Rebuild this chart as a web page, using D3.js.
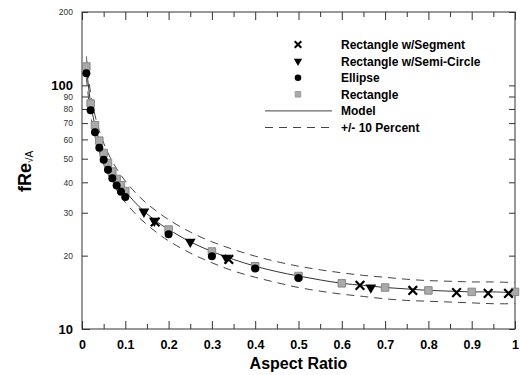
<!DOCTYPE html>
<html>
<head>
<meta charset="utf-8">
<script src="https://cdn.jsdelivr.net/npm/d3@7"></script>
<style>
  body { margin: 0; background: #fff; }
  svg { display: block; font-family: "Liberation Sans", Arial, sans-serif; }
</style>
</head>
<body>
<div id="chart"></div>
<script>
// ---- data ----
var xMajorTicks = [0, 0.1, 0.2, 0.3, 0.4, 0.5, 0.6, 0.7, 0.8, 0.9, 1];
var xMinorTicks = [0.05, 0.15, 0.25, 0.35, 0.45, 0.55, 0.65, 0.75, 0.85, 0.95];
var yMajorTicks = [10, 100];
var yMinorTicks = [20, 30, 40, 50, 60, 70, 80, 90, 200];

// Rectangle w/Segment (x marks)
var segRatio = [0.169, 0.339, 0.642, 0.764, 0.865, 0.938, 0.985];
var segValue = [27.5, 19.3, 15.1, 14.4, 14.1, 14.0, 14.0];

// Rectangle w/Semi-Circle (down triangles)
var semiRatio = [0.143, 0.167, 0.25, 0.333, 0.667];
var semiValue = [30.3, 27.8, 22.8, 19.6, 14.8];

// Ellipse (circles)
var ellRatio = [0.01, 0.02, 0.03, 0.04, 0.05, 0.06, 0.07, 0.08, 0.09, 0.1, 0.2, 0.3, 0.4, 0.5];
var ellValue = [112, 79, 64.2, 55.5, 49.5, 45, 41.6, 38.8, 36.6, 34.8, 24.5, 19.9, 17.7, 16.2];

// Rectangle (grey squares)
var rectRatio = [0.01, 0.02, 0.03, 0.04, 0.05, 0.06, 0.07, 0.08, 0.09, 0.1, 0.2, 0.3, 0.4, 0.5, 0.6, 0.7, 0.8, 0.9, 1.0];
var rectValue = [119.5, 84.2, 68.6, 59.3, 52.8, 48.0, 44.3, 41.3, 38.9, 36.8, 25.6, 20.8, 18.1, 16.5, 15.4, 14.8, 14.4, 14.2, 14.2];

// Model curve and +/- 10 percent band
var modelRatio = [0.01, 0.02, 0.03, 0.04, 0.05, 0.06, 0.07, 0.08, 0.09, 0.1, 0.125, 0.15, 0.175, 0.2, 0.25, 0.3, 0.35, 0.4, 0.45, 0.5, 0.55, 0.6, 0.65, 0.7, 0.75, 0.8, 0.85, 0.9, 0.95, 1.0];
var modelValue = [119.6, 84.3, 68.6, 59.2, 52.8, 48.0, 44.3, 41.4, 38.9, 36.8, 32.7, 29.7, 27.4, 25.6, 22.8, 20.8, 19.3, 18.1, 17.2, 16.5, 15.9, 15.4, 15.1, 14.8, 14.6, 14.4, 14.3, 14.2, 14.2, 14.1];
var upperValue = [131.6, 92.7, 75.4, 65.1, 58.0, 52.8, 48.7, 45.5, 42.8, 40.5, 36.0, 32.7, 30.2, 28.1, 25.0, 22.8, 21.2, 19.9, 18.9, 18.1, 17.5, 17.0, 16.6, 16.3, 16.0, 15.8, 15.7, 15.6, 15.6, 15.5];
var lowerValue = [107.6, 75.8, 61.7, 53.3, 47.5, 43.2, 39.9, 37.3, 35.0, 33.1, 29.5, 26.8, 24.7, 23.0, 20.5, 18.7, 17.3, 16.3, 15.5, 14.8, 14.3, 13.9, 13.6, 13.3, 13.1, 13.0, 12.9, 12.8, 12.7, 12.7];

var legendLabels = ["Rectangle w/Segment", "Rectangle w/Semi-Circle", "Ellipse", "Rectangle", "Model", "+/- 10 Percent"];

// ---- layout ----
var outerWidth = 520, outerHeight = 375;
var margin = {top: 12, right: 5, bottom: 46, left: 82};
var width = outerWidth - margin.left - margin.right,
    height = outerHeight - margin.top - margin.bottom;

var svg = d3.select("#chart").append("svg")
    .attr("width", outerWidth)
    .attr("height", outerHeight);

var g = svg.append("g")
    .attr("transform", "translate(" + margin.left + "," + margin.top + ")");

var x = d3.scaleLinear().domain([0, 1]).range([0, width]);
var y = d3.scaleLog().domain([10, 200]).range([height, 0]);

function zip(xs, ys) { return xs.map(function(v, i) { return {r: v, f: ys[i]}; }); }

// ---- axes ----
function styleAxis(sel) {
    sel.select(".domain").remove();
    sel.selectAll(".tick line").attr("stroke", "#333");
}

g.append("g").call(d3.axisLeft(y).tickValues(yMajorTicks).tickSize(-8).tickPadding(9).tickFormat(d3.format("d")))
    .call(styleAxis)
    .selectAll("text").attr("font-size", 13).attr("font-weight", "bold").attr("fill", "#000");

g.append("g").call(d3.axisLeft(y).tickValues(yMinorTicks).tickSize(-6).tickPadding(9).tickFormat(d3.format("d")))
    .call(styleAxis)
    .selectAll("text").attr("font-size", 8.5).attr("fill", "#333");

g.append("g").attr("transform", "translate(" + width + ",0)")
    .call(d3.axisRight(y).tickValues(yMajorTicks.concat(yMinorTicks)).tickSize(-6).tickFormat(""))
    .call(styleAxis);

g.append("g").attr("transform", "translate(0," + height + ")")
    .call(d3.axisBottom(x).tickValues(xMajorTicks).tickSize(-8).tickPadding(11).tickFormat(function(d) { return d === 0 || d === 1 ? d3.format("d")(d) : d3.format(".1f")(d); }))
    .call(styleAxis)
    .selectAll("text").attr("font-size", 12.5).attr("font-weight", "bold").attr("fill", "#000");

g.append("g").attr("transform", "translate(0," + height + ")")
    .call(d3.axisBottom(x).tickValues(xMinorTicks).tickSize(-5).tickFormat(""))
    .call(styleAxis);

g.append("g")
    .call(d3.axisTop(x).tickValues(xMajorTicks).tickSize(-8).tickFormat(""))
    .call(styleAxis);

g.append("g")
    .call(d3.axisTop(x).tickValues(xMinorTicks).tickSize(-5).tickFormat(""))
    .call(styleAxis);

// frame
g.append("rect")
    .attr("width", width)
    .attr("height", height)
    .attr("fill", "none")
    .attr("stroke", "#333")
    .attr("stroke-width", 1);

// ---- lines ----
var line = d3.line()
    .x(function(d) { return x(d.r); })
    .y(function(d) { return y(d.f); })
    .curve(d3.curveCatmullRom);

g.append("path").attr("d", line(zip(modelRatio, upperValue)))
    .attr("fill", "none").attr("stroke", "#444").attr("stroke-width", 1).attr("stroke-dasharray", "8,6");
g.append("path").attr("d", line(zip(modelRatio, lowerValue)))
    .attr("fill", "none").attr("stroke", "#444").attr("stroke-width", 1).attr("stroke-dasharray", "8,6");
g.append("path").attr("d", line(zip(modelRatio, modelValue)))
    .attr("fill", "none").attr("stroke", "#333").attr("stroke-width", 1);

// ---- markers ----
var sq = d3.symbol().type(d3.symbolSquare).size(56);
var tri = d3.symbol().type(d3.symbolTriangle).size(50);
var cross = d3.symbol().type(d3.symbolX).size(50);

g.selectAll(".rect-pt").data(zip(rectRatio, rectValue)).enter().append("path")
    .attr("class", "rect-pt")
    .attr("d", sq)
    .attr("transform", function(d) { return "translate(" + x(d.r) + "," + y(d.f) + ")"; })
    .attr("fill", "#aaa").attr("stroke", "#888").attr("stroke-width", 1);

g.selectAll(".ell-pt").data(zip(ellRatio, ellValue)).enter().append("circle")
    .attr("class", "ell-pt")
    .attr("cx", function(d) { return x(d.r); })
    .attr("cy", function(d) { return y(d.f); })
    .attr("r", 4)
    .attr("fill", "#000");

g.selectAll(".semi-pt").data(zip(semiRatio, semiValue)).enter().append("path")
    .attr("class", "semi-pt")
    .attr("d", tri)
    .attr("transform", function(d) { return "translate(" + x(d.r) + "," + y(d.f) + ") rotate(180)"; })
    .attr("fill", "#000");

g.selectAll(".seg-pt").data(zip(segRatio, segValue)).enter().append("path")
    .attr("class", "seg-pt")
    .attr("d", cross)
    .attr("transform", function(d) { return "translate(" + x(d.r) + "," + y(d.f) + ")"; })
    .attr("fill", "none").attr("stroke", "#000").attr("stroke-width", 2.2);

// ---- legend ----
var legend = svg.append("g").attr("transform", "translate(0,44.5)");
var step = 16.6, symX = 298, textX = 341;

legendLabels.forEach(function(label, i) {
    var row = legend.append("g").attr("transform", "translate(0," + (i * step) + ")");
    if (i === 0) {
        row.append("path").attr("d", d3.symbol().type(d3.symbolX).size(30)())
            .attr("transform", "translate(" + symX + ",0)")
            .attr("fill", "none").attr("stroke", "#000").attr("stroke-width", 2);
    } else if (i === 1) {
        row.append("path").attr("d", d3.symbol().type(d3.symbolTriangle).size(30)())
            .attr("transform", "translate(" + symX + ",0) rotate(180)").attr("fill", "#000");
    } else if (i === 2) {
        row.append("circle").attr("cx", symX).attr("cy", 0).attr("r", 3.3).attr("fill", "#000");
    } else if (i === 3) {
        row.append("path").attr("d", d3.symbol().type(d3.symbolSquare).size(30)())
            .attr("transform", "translate(" + symX + ",0)")
            .attr("fill", "#aaa").attr("stroke", "#999");
    } else {
        row.append("line").attr("x1", 265).attr("x2", 332).attr("y1", 0).attr("y2", 0)
            .attr("stroke", "#444").attr("stroke-width", 1)
            .attr("stroke-dasharray", i === 5 ? "8,6" : null);
    }
    row.append("text")
        .attr("x", textX).attr("y", 4.5)
        .attr("font-size", 12).attr("font-weight", "bold")
        .text(label);
});

// ---- axis titles ----
svg.append("text")
    .attr("x", margin.left + width / 2)
    .attr("y", 369)
    .attr("text-anchor", "middle")
    .attr("font-size", 16).attr("font-weight", "bold")
    .text("Aspect Ratio");

var yTitle = svg.append("text")
    .attr("transform", "translate(31,192) rotate(-90)")
    .attr("font-size", 18).attr("font-weight", "bold");
yTitle.append("tspan").text("fRe");
yTitle.append("tspan").attr("font-size", 10).attr("font-weight", "normal").attr("dy", 2).text("√A");
</script>
</body>
</html>
